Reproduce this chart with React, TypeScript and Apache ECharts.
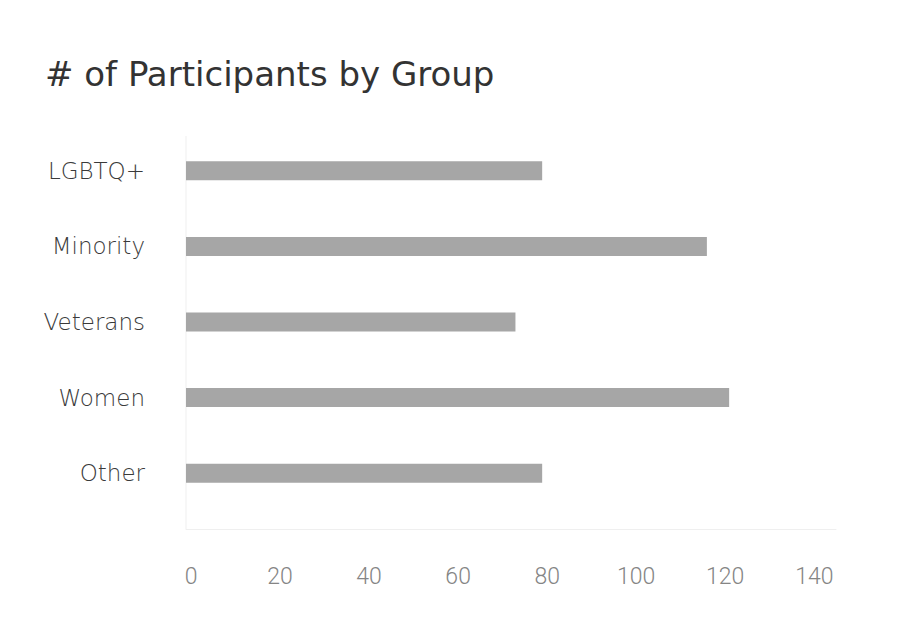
import { useEffect, useRef } from 'react'
import * as echarts from 'echarts'

// Horizontal bar chart: participants per group.
const GROUPS = ['LGBTQ+', 'Minority', 'Veterans', 'Women', 'Other']
const PARTICIPANTS = [80, 117, 74, 122, 80]

const X_MAX = 146
const X_STEP = 20

const TITLE = '# of Participants by Group'
const TICK_FONT = 'Roboto, "Noto Sans", sans-serif'
const WIDE_FONT = '"DejaVu Sans", Roboto, sans-serif'
const BAR_COLOR = '#a6a6a6'
const AXIS_LINE = '#efefef'

export default function App() {
  const ref = useRef<HTMLDivElement>(null)

  useEffect(() => {
    document.body.style.margin = '0'
    const el = ref.current
    if (!el) return
    const chart = echarts.init(el, undefined, { renderer: 'svg' })
    chart.setOption({
      animation: false,
      backgroundColor: '#ffffff',
      textStyle: { fontFamily: TICK_FONT },
      title: {
        text: TITLE,
        left: 45,
        top: 57,
        padding: 0,
        textStyle: { fontFamily: WIDE_FONT, fontSize: 34, fontWeight: 400, color: '#333333' },
      },
      grid: { left: 186, top: 133, width: 650, height: 378 },
      xAxis: {
        type: 'value',
        min: 0,
        max: X_MAX,
        interval: X_STEP,
        offset: 18,
        axisLine: { show: true, lineStyle: { color: AXIS_LINE, width: 1 } },
        axisTick: { show: false },
        splitLine: { show: false },
        axisLabel: {
          margin: 36,
          fontFamily: TICK_FONT,
          fontSize: 23,
          fontWeight: 300,
          color: '#858585',
          padding: [0, 0, 0, 10],
          showMaxLabel: false,
          formatter: (v: number) => (v % X_STEP === 0 ? String(v) : ''),
        },
      },
      yAxis: {
        type: 'category',
        inverse: true,
        data: GROUPS,
        axisLine: { show: false },
        axisTick: { show: false },
        axisLabel: {
          margin: 41,
          fontFamily: WIDE_FONT,
          fontSize: 23,
          fontWeight: 200,
          color: '#3a3a3a',
        },
      },
      graphic: [
        {
          type: 'line',
          shape: { x1: 186, y1: 136, x2: 186, y2: 529 },
          style: { stroke: AXIS_LINE, lineWidth: 1 },
          silent: true,
        },
      ],
      series: [
        {
          type: 'bar',
          data: PARTICIPANTS,
          barWidth: 19,
          itemStyle: { color: BAR_COLOR },
          silent: true,
        },
      ],
    })
    return () => chart.dispose()
  }, [])

  return <div ref={ref} style={{ width: 916, height: 634 }} />
}
